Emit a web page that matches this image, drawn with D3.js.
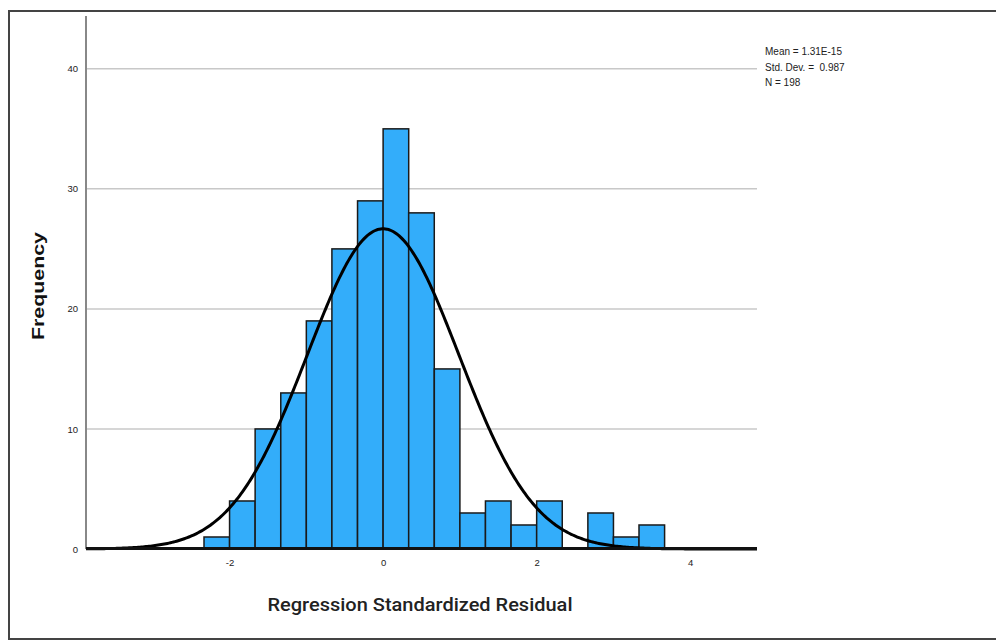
<!DOCTYPE html>
<html>
<head>
<meta charset="utf-8">
<script src="https://cdn.jsdelivr.net/npm/d3@7"></script>
<style>
  body { margin: 0; background: #fff; }
  svg { display: block; }
</style>
</head>
<body>
<script>
// histogram of standardized residuals, bins of 1/3
var binStarts = [-2.333, -2, -1.667, -1.333, -1, -0.667, -0.333, 0, 0.333, 0.667,
                 1, 1.333, 1.667, 2, 2.333, 2.667, 3, 3.333];
var counts = [1, 4, 10, 13, 19, 25, 29, 35, 28, 15, 3, 4, 2, 4, 0, 3, 1, 2];
var binWidth = 1 / 3;
var xTicks = [-2, 0, 2, 4];
var yTicks = [0, 10, 20, 30, 40];
var stats = ["Mean = 1.31E-15", "Std. Dev. =  0.987", "N = 198"];
var mean = 1.31e-15, sd = 0.987, n = 198;

var width = 996, height = 641;
var svg = d3.select("body").append("svg")
  .attr("width", width)
  .attr("height", height);

// outer frame
svg.append("rect")
  .attr("x", 9).attr("y", 11)
  .attr("width", 1000).attr("height", 628)
  .attr("fill", "none")
  .attr("stroke", "#444")
  .attr("stroke-width", 2);

var x = d3.scaleLinear().domain([-3.87, 4.87]).range([86, 757]);
var y = d3.scaleLinear().domain([0, 44.4]).range([549, 16]);

// gridlines
svg.append("g").selectAll("line")
  .data(yTicks.filter(function(d){ return d > 0; }))
  .enter().append("line")
  .attr("x1", 86).attr("x2", 757)
  .attr("y1", function(d){ return y(d); })
  .attr("y2", function(d){ return y(d); })
  .attr("stroke", "#c8c8c8")
  .attr("stroke-width", 1.5);

// bars
svg.append("g").selectAll("rect")
  .data(binStarts.map(function(s, i){ return {s: s, c: counts[i]}; }).filter(function(d){ return d.c > 0; }))
  .enter().append("rect")
  .attr("x", function(d){ return x(d.s); })
  .attr("y", function(d){ return y(d.c); })
  .attr("width", function(d){ return x(d.s + binWidth) - x(d.s); })
  .attr("height", function(d){ return y(0) - y(d.c); })
  .attr("fill", "#33adfa")
  .attr("stroke", "#1a1a1a")
  .attr("stroke-width", 1.5);

var tickFont = "Liberation Sans, Arial, sans-serif";

// y axis
var yAxis = svg.append("g")
  .attr("transform", "translate(86,0)")
  .call(d3.axisLeft(y).tickValues(yTicks).tickSize(0).tickPadding(8)
    .tickFormat(function(d){ return String(d); }));
yAxis.select(".domain").remove();
yAxis.selectAll("text")
  .attr("font-family", tickFont)
  .attr("font-size", 9.5)
  .attr("fill", "#222");
svg.append("line")
  .attr("x1", 86).attr("x2", 86)
  .attr("y1", 16).attr("y2", 549)
  .attr("stroke", "#888")
  .attr("stroke-width", 2);

// x axis
var xAxis = svg.append("g")
  .attr("transform", "translate(0,549)")
  .call(d3.axisBottom(x).tickValues(xTicks).tickSize(0).tickPadding(10)
    .tickFormat(function(d){ return String(d); }));
xAxis.select(".domain").remove();
xAxis.selectAll("text")
  .attr("font-family", tickFont)
  .attr("font-size", 9.5)
  .attr("fill", "#222");

// normal curve
var pts = d3.range(-3.87, 4.871, 0.02).map(function(v){
  var dens = Math.exp(-0.5 * Math.pow((v - mean) / sd, 2)) / (sd * Math.sqrt(2 * Math.PI));
  return [v, n * binWidth * dens];
});
svg.append("path")
  .datum(pts)
  .attr("d", d3.line().x(function(d){ return x(d[0]); }).y(function(d){ return y(d[1]); }))
  .attr("fill", "none")
  .attr("stroke", "#000")
  .attr("stroke-width", 3);

svg.append("line")
  .attr("x1", 86).attr("x2", 757)
  .attr("y1", 548.5).attr("y2", 548.5)
  .attr("stroke", "#111")
  .attr("stroke-width", 3);

// stats box
svg.append("g").selectAll("text")
  .data(stats)
  .enter().append("text")
  .attr("x", 765)
  .attr("y", function(d, i){ return [55, 71, 86][i]; })
  .attr("font-family", tickFont)
  .attr("font-size", 10)
  .attr("fill", "#222")
  .attr("xml:space", "preserve")
  .style("white-space", "pre")
  .text(function(d){ return d; });

// axis titles
svg.append("text")
  .attr("x", 420).attr("y", 611)
  .attr("text-anchor", "middle")
  .attr("font-family", "Roboto, sans-serif")
  .attr("font-weight", 500)
  .attr("font-size", 18)
  .attr("textLength", 305)
  .attr("lengthAdjust", "spacingAndGlyphs")
  .attr("fill", "#222")
  .text("Regression Standardized Residual");

svg.append("text")
  .attr("transform", "translate(44,286) rotate(-90)")
  .attr("text-anchor", "middle")
  .attr("font-family", "Liberation Sans, Arial, sans-serif")
  .attr("font-weight", "bold")
  .attr("font-size", 17)
  .attr("textLength", 108)
  .attr("lengthAdjust", "spacingAndGlyphs")
  .attr("fill", "#111")
  .text("Frequency");
</script>
</body>
</html>
